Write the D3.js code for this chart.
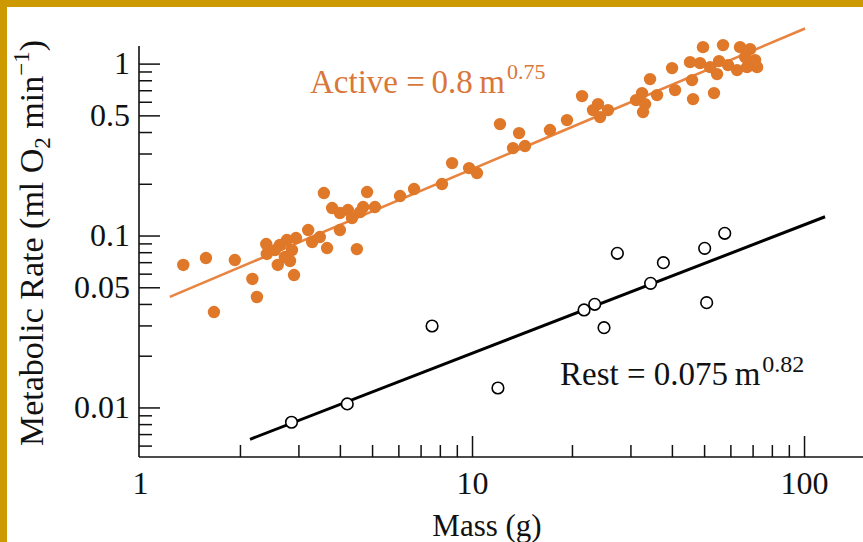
<!DOCTYPE html>
<html>
<head>
<meta charset="utf-8">
<script src="https://cdn.jsdelivr.net/npm/d3@7"></script>
<style>
body{margin:0;background:#fff;}
svg{display:block;}
text{font-family:"Liberation Serif","Times New Roman",serif;}
</style>
</head>
<body>
<div id="chart"></div>
<script>
// active metabolic rate vs body mass (filled dots)
var activeMass = [1.35,1.58,1.67,1.93,2.18,2.25,2.4,2.41,2.6,2.64,2.77,2.73,2.87,2.95,2.83,2.91,2.55,3.21,3.3,3.48,
  3.58,3.66,3.79,4.0,4.0,4.23,4.35,4.5,4.7,4.83,5.1,4.6,6.07,6.69,8.12,8.71,9.8,10.35,12.14,13.86,
  13.29,14.44,17.17,19.32,21.45,23.96,23.14,24.3,25.68,31.19,32.51,32.74,34.37,36.08,33.2,40.04,40.88,45.36,45.99,46.31,
  49.63,48.61,53.56,54.7,55.46,57.02,59.03,64.16,62.84,66.43,68.77,71.21,72.2,67.36,52.11];
var activeRate = [0.0674,0.074,0.0359,0.072,0.0559,0.0439,0.0892,0.0781,0.0674,0.0881,0.0941,0.075,0.0823,0.0967,0.0711,0.0589,0.0823,0.1076,0.0917,0.098,
  0.1767,0.0846,0.1445,0.1076,0.1351,0.1407,0.1264,0.0834,0.1464,0.179,0.1464,0.1369,0.1697,0.1864,0.1993,0.2639,0.2468,0.2309,0.4447,0.3944,
  0.3226,0.3314,0.4107,0.4694,0.6472,0.5814,0.5366,0.4886,0.5366,0.6135,0.6738,0.5224,0.8127,0.656,0.5814,0.9415,0.7014,1.02,0.8018,0.6218,
  1.247,1.007,0.6738,0.8688,1.034,1.281,0.98,1.247,0.9167,1.091,1.214,1.048,0.954,0.954,0.954];

// resting metabolic rate (open circles)
var restMass = [2.86,4.21,7.58,11.97,21.75,23.42,24.98,27.4,34.5,37.7,50.2,50.9,57.7];
var restRate = [0.0082,0.01048,0.02977,0.01298,0.0369,0.0398,0.0291,0.0788,0.0527,0.0695,0.0842,0.0407,0.103];

// fitted lines, end points [mass, rate]
var activeLine = [[1.23,0.044],[100.7,1.60]];
var restLine = [[2.145,0.00653],[115.7,0.1286]];

var yMajor = [1,0.5,0.1,0.05,0.01];
var yMinor = [0.9,0.8,0.7,0.6,0.4,0.3,0.2,0.09,0.08,0.07,0.06,0.04,0.03,0.02,0.009,0.008,0.007,0.006];
var xLabels = [1,10,100];
var xMajor = [10,100];
var xMinor = [2,3,4,5,6,7,8,9,20,30,40,50,60,70,80,90];

var W = 863, H = 542;
var orange = "#e0782a", lineOrange = "#e8843f", gold = "#cc9900";

var svg = d3.select("#chart").append("svg")
  .attr("width", W).attr("height", H);

svg.append("rect").attr("width", W).attr("height", H).attr("fill", "#fff");
svg.append("rect").attr("width", W).attr("height", 7).attr("fill", gold);
svg.append("rect").attr("width", 7).attr("height", H).attr("fill", gold);

var x = d3.scaleLog().domain([1, 150]).range([140, 862.5]);
var y = d3.scaleLog().domain([0.00515, 1.2]).range([457, 50]);
var x0 = 139, y0 = 457;

// y axis: minor then major ticks, pointing inward
svg.append("g").attr("transform", "translate(" + x0 + ",0)")
  .call(d3.axisLeft(y).tickValues(yMinor).tickSizeInner(-13).tickSizeOuter(0).tickFormat(""))
  .call(g => g.select(".domain").remove());
var yAx = svg.append("g").attr("transform", "translate(" + x0 + ",0)")
  .call(d3.axisLeft(y).tickValues(yMajor).tickSizeInner(-21).tickSizeOuter(0).tickPadding(9)
    .tickFormat(d => String(d)));
yAx.select(".domain").attr("d", "M0,46V" + y0);

// x axis
svg.append("g").attr("transform", "translate(0," + y0 + ")")
  .call(d3.axisBottom(x).tickValues(xMinor).tickSizeInner(-12).tickSizeOuter(0).tickFormat(""))
  .call(g => g.select(".domain").remove());
svg.append("g").attr("transform", "translate(0," + y0 + ")")
  .call(d3.axisBottom(x).tickValues(xMajor).tickSizeInner(-21).tickSizeOuter(0).tickFormat(""))
  .call(g => g.select(".domain").attr("d", "M" + x0 + ",0H" + W));
var xLab = svg.append("g").attr("transform", "translate(0," + y0 + ")")
  .call(d3.axisBottom(x).tickValues(xLabels).tickSize(0).tickPadding(14).tickFormat(d => String(d)));
xLab.select(".domain").remove();

svg.selectAll(".tick line").attr("stroke", "#111").attr("stroke-width", 1.5);
svg.selectAll(".domain").attr("stroke", "#111").attr("stroke-width", 1.6);
svg.selectAll(".tick text").attr("fill", "#111").style("font-size", "32px")
  .style("font-family", "'Liberation Serif', serif");

// fitted lines
var line = d3.line().x(d => x(d[0])).y(d => y(d[1]));
svg.append("path").datum(activeLine).attr("d", line)
  .attr("stroke", lineOrange).attr("stroke-width", 2.6).attr("fill", "none");
svg.append("path").datum(restLine).attr("d", line)
  .attr("stroke", "#000").attr("stroke-width", 3).attr("fill", "none");

// points
svg.append("g").selectAll("circle").data(d3.range(activeMass.length)).enter()
  .append("circle")
  .attr("cx", i => x(activeMass[i])).attr("cy", i => y(activeRate[i]))
  .attr("r", 6.2).attr("fill", orange);
svg.append("g").selectAll("circle").data(d3.range(restMass.length)).enter()
  .append("circle")
  .attr("cx", i => x(restMass[i])).attr("cy", i => y(restRate[i]))
  .attr("r", 5.8).attr("fill", "#fff").attr("stroke", "#000").attr("stroke-width", 1.6);

// equations
var eqA = svg.append("text").attr("x", 310).attr("y", 93)
  .attr("fill", "#d9773a").style("font-size", "33px");
eqA.append("tspan").text("Active =\u20090.8\u2009m");
eqA.append("tspan").attr("dx", 2).attr("dy", -14).style("font-size", "22px").text("0.75");

var eqR = svg.append("text").attr("x", 560).attr("y", 385)
  .attr("fill", "#111").style("font-size", "33px");
eqR.append("tspan").text("Rest = 0.075\u2009m");
eqR.append("tspan").attr("dx", 2).attr("dy", -13).style("font-size", "24px").text("0.82");

// axis titles
svg.append("text").attr("x", 487).attr("y", 536).attr("text-anchor", "middle")
  .attr("fill", "#111").style("font-size", "31px").text("Mass (g)");

var yt = svg.append("text").attr("transform", "translate(43,243) rotate(-90)")
  .attr("text-anchor", "middle").attr("fill", "#111").style("font-size", "34px");
yt.append("tspan").text("Metabolic Rate (ml O");
yt.append("tspan").attr("dy", 7).style("font-size", "23px").text("2");
yt.append("tspan").attr("dy", -7).text(" min");
yt.append("tspan").attr("dy", -14).style("font-size", "23px").text("\u22121");
yt.append("tspan").attr("dy", 14).text(")");
</script>
</body>
</html>
